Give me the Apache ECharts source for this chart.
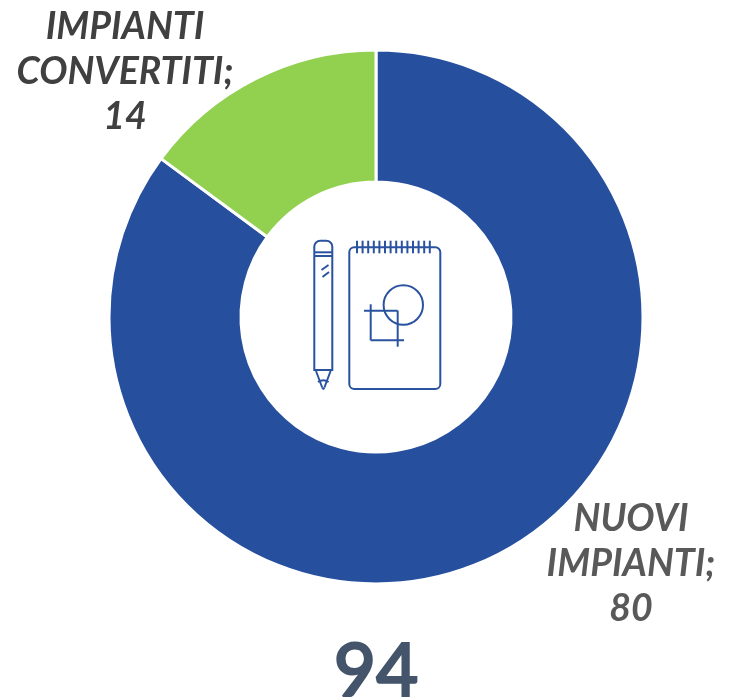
<!DOCTYPE html>
<html><head><meta charset="utf-8">
<style>html,body{margin:0;padding:0;background:#fff}#c{width:756px;height:700px}</style>
<script src="https://cdn.jsdelivr.net/npm/echarts@6/dist/echarts.min.js"></script>
</head><body><div id="c"></div>
<script>
const categories = ['NUOVI\nIMPIANTI', 'IMPIANTI\nCONVERTITI'];
const values = [80, 14];
const total = '94';
const colors = ['#264f9e', '#92d050'];
const labelColors = ['#595959', '#404040'];
const labelSpots = [[631, 564], [125, 72]];

const ink = '#2a539f';
const stroke = {stroke:ink, lineWidth:2, fill:null};
const line = (x1, y1, x2, y2) => ({type:'line', shape:{x1,y1,x2,y2}, style:stroke});
const curve = (x1, y1, cpx1, cpy1, x2, y2) => ({type:'bezierCurve', shape:{x1,y1,cpx1,cpy1,x2,y2}, style:stroke});
const spiral = [357,362.6,368.2,373.8,379.4,385,390.6,396.2,401.8,407.4,413,418.6,424.2,429.8]
  .map(x => line(x, 240.7, x, 253.3));

const chart = echarts.init(document.getElementById('c'), null, {renderer:'canvas'});
chart.setOption({
  animation:false,
  series:[{
    type:'pie',
    center:[376,317],
    radius:[135,267],
    startAngle:90,
    clockwise:true,
    avoidLabelOverlap:false,
    itemStyle:{borderColor:'#fff', borderWidth:3},
    labelLine:{show:false},
    label:{show:true, position:'outside', formatter:'{b};\n{c}', fontFamily:'Lato', fontStyle:'italic', fontWeight:'bold', fontSize:37.5, lineHeight:45, align:'center', verticalAlign:'middle'},
    labelLayout:(p)=>({x:labelSpots[p.dataIndex][0], y:labelSpots[p.dataIndex][1], align:'center', verticalAlign:'middle'}),
    data:categories.map((name,i)=>({name, value:values[i], itemStyle:{color:colors[i]}, label:{color:labelColors[i]}}))
  }],
  graphic:[
    {type:'text', x:376, y:636, style:{text:total, x:0, y:0, align:'center', font:'500 73px "Lato"', fill:'#44546a', stroke:'#44546a', lineWidth:2}},
    {type:'group', silent:true, children:[
      {type:'rect', shape:{x:314.3, y:240.7, width:18, height:129.3, r:[6,6,0,0]}, style:stroke},
      line(314.3,252.3,332.3,252.3), line(314.3,256,332.3,256),
      line(321.5,270,328.5,265), line(322.5,277,329,272),
      line(316,371,322.2,387.5), line(330.6,371,324.4,387.5), curve(322.2,387.5,323.3,390.5,324.4,387.5),
      curve(318,382,323.3,378.5,328.6,382),
      {type:'rect', shape:{x:349.3, y:247.3, width:91, height:141.7, r:5}, style:stroke},
      ...spiral,
      {type:'circle', shape:{cx:403.3, cy:305, r:19.7}, style:stroke},
      line(364,310.7,397.7,310.7), line(370.7,304.3,370.7,340.3),
      line(370.7,340.3,404,340.3), line(397.7,310.7,397.7,346.7)
    ]}
  ]
});
</script></body></html>
